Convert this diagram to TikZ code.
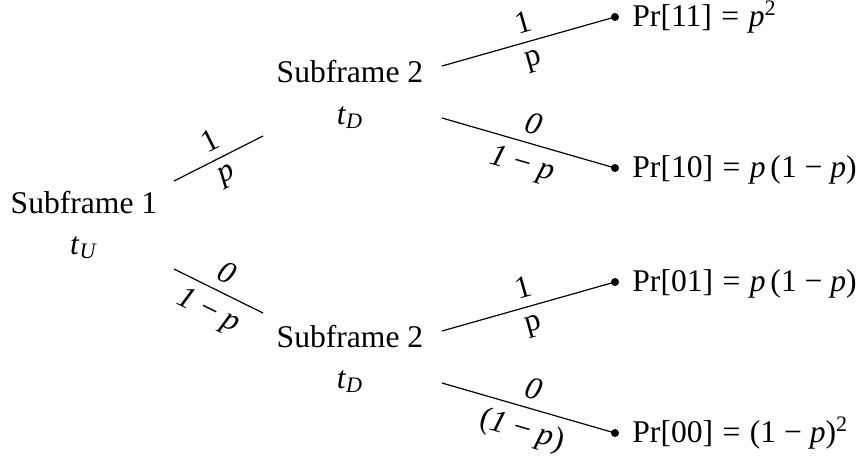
\documentclass[tikz,border=0pt]{standalone}
\usepackage{fontspec}
\setmainfont{Liberation Serif}
\usetikzlibrary{positioning}
\newcommand{\sm}{\hspace{0.25em}−\hspace{0.25em}}
\newcommand{\seq}{\hspace{0.3em}=\hspace{0.3em}}
\newcommand{\vi}[1]{\textit{#1}}
\tikzset{
  sfnode/.style={anchor=base,inner sep=0pt},
  leaf/.style={circle,fill,inner sep=0pt,minimum size=4pt},
  prob/.style={anchor=base west,inner sep=0pt},
  br/.style={line width=0.6pt},
  pa/.style={midway,sloped,above,inner sep=4.5pt},
  pb/.style={midway,sloped,below,inner sep=4.5pt},
}
\begin{document}
\begin{tikzpicture}[x=0.5pt,y=-0.5pt,every node/.style={font=\fontsize{15.8}{20}\selectfont}]
\useasboundingbox (0,0) rectangle (865,462);
% subframe nodes
\node[sfnode] (s1) at (84,213) {Subframe 1};
\node[sfnode] (s1t) at (84,254) {\vi{t}\textsubscript{\vi{U}}};
\node[sfnode] (s2a) at (350,82) {Subframe 2};
\node[sfnode] (s2at) at (350,124) {\vi{t}\textsubscript{\vi{D}}};
\node[sfnode] (s2b) at (350,347) {Subframe 2};
\node[sfnode] (s2bt) at (350,388) {\vi{t}\textsubscript{\vi{D}}};
% outcomes
\node[leaf] (d11) at (615,17) {};
\node[leaf] (d10) at (615,168) {};
\node[leaf] (d01) at (615,282) {};
\node[leaf] (d00) at (615,433) {};
\node[prob] (p11) at (632,26) {Pr[11]\seq\vi{p}\textsuperscript{2}};
\node[prob] (p10) at (632,177) {Pr[10]\seq\vi{p}\kern0.15em(1\sm\vi{p})};
\node[prob] (p01) at (632,291) {Pr[01]\seq\vi{p}\kern0.15em(1\sm\vi{p})};
\node[prob] (p00) at (632,442) {Pr[00]\seq(1\sm\vi{p})\textsuperscript{2}};
% branch ends
\coordinate (s1u) at (174,181); \coordinate (s1d) at (174,269);
\coordinate (s2ain) at (263,136); \coordinate (s2bin) at (263,313);
\coordinate (s2au) at (442,66); \coordinate (s2ad) at (442,118);
\coordinate (s2bu) at (442,331); \coordinate (s2bd) at (442,383);
% branches
\draw[br] (s1u) -- node[pa]{1} node[pb]{\vi{p}} (s2ain);
\draw[br] (s1d) -- node[pa]{\vi{0}} node[pb]{\vi{1}\sm\vi{p}} (s2bin);
\draw[br] (s2au) -- node[pa]{1} node[pb]{p} (d11.center);
\draw[br] (s2ad) -- node[pa]{\vi{0}} node[pb]{\vi{1}\sm\vi{p}} (d10.center);
\draw[br] (s2bu) -- node[pa]{1} node[pb]{p} (d01.center);
\draw[br] (s2bd) -- node[pa]{\vi{0}} node[pb]{(\vi{1}\sm\vi{p})} (d00.center);
\end{tikzpicture}
\end{document}
